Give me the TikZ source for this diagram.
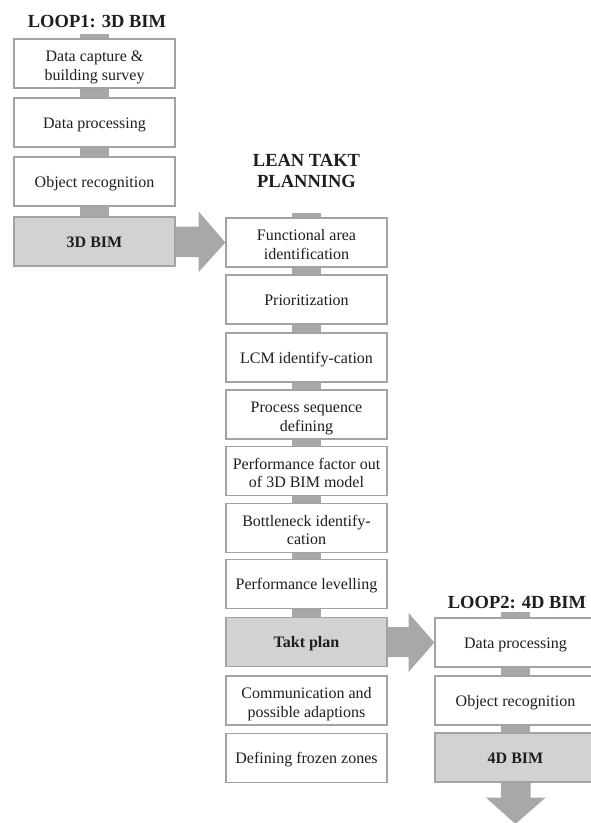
\documentclass[tikz,border=0pt]{standalone}
\usepackage{fontspec}
\setmainfont{Liberation Serif}
\usetikzlibrary{calc,backgrounds}
\definecolor{boxline}{HTML}{A3A3A3}
\definecolor{keyfill}{HTML}{D2D2D2}
\definecolor{barcol}{HTML}{A8A8A8}
\definecolor{txt}{HTML}{1E1E1E}
\tikzset{
  stepbox/.style={draw=boxline, line width=1.3pt, fill=white, minimum width=161pt, minimum height=49pt,
    inner sep=1pt, align=center, text=txt, text height=15.6pt, text depth=4pt,
    font=\fontsize{16}{18.4}\selectfont},
  twoline/.style={text height=37pt, text depth=4pt},
  keybox/.style={stepbox, fill=keyfill, font=\fontsize{16}{18.4}\selectfont\bfseries},
  titletext/.style={anchor=base, align=center, text=txt, inner sep=0pt, font=\fontsize{18.5}{21}\selectfont\bfseries},
  bar/.style={draw=barcol, line width=29pt},
  bigarrow/.style={fill=barcol}
}
\begin{document}
\begin{tikzpicture}[x=1pt,y=-1pt]
\useasboundingbox (0,0) rectangle (591,823);
% titles
\node[titletext] (t1) at (97,27) {LOOP1: 3D BIM};
\node[titletext] (t2) at (306.5,187) {LEAN TAKT\\PLANNING};
\node[titletext] (t3) at (517,608) {LOOP2: 4D BIM};
% loop 1
\node[stepbox,twoline] (dc)  at (94.5,63.5)  {Data capture \&\\building survey};
\node[stepbox] (dp1) at (94.5,122.5) {Data processing};
\node[stepbox] (or1) at (94.5,181.5) {Object recognition};
\node[keybox]  (b3)  at (94.5,241.5) {3D BIM};
% lean takt planning
\node[stepbox,twoline] (fa)   at (306.5,242.5) {Functional area\\identification};
\node[stepbox] (pr)   at (306.5,299.5) {Prioritization};
\node[stepbox] (lcm)  at (306.5,357.5) {LCM identify-cation};
\node[stepbox,twoline] (psd)  at (306.5,414.5) {Process sequence\\defining};
\node[stepbox,twoline] (pf)   at (306.5,471)   {Performance factor out\\of 3D BIM model};
\node[stepbox,twoline] (bn)   at (306.5,528)   {Bottleneck identify-\\cation};
\node[stepbox] (pl)   at (306.5,584)   {Performance levelling};
\node[keybox]  (takt) at (306.5,642)   {Takt plan};
\node[stepbox,twoline] (com)  at (306.5,700.5) {Communication and\\possible adaptions};
\node[stepbox] (dfz)  at (306.5,758)   {Defining frozen zones};
% loop 2
\node[stepbox] (dp2) at (515.5,642.5) {Data processing};
\node[stepbox] (or2) at (515.5,700.5) {Object recognition};
\node[keybox]  (b4)  at (515.5,757.5) {4D BIM};
\begin{scope}[on background layer]
  % stubs
  \draw[bar] ($(dc.north)+(0,-4)$) -- (dc.north);
  \draw[bar] ($(fa.north)+(0,-4)$) -- (fa.north);
  \draw[bar] ($(dp2.north)+(0,-5)$) -- (dp2.north);
  % connecting bars
  \draw[bar] (dc) -- (dp1);
  \draw[bar] (dp1) -- (or1);
  \draw[bar] (or1) -- (b3);
  \draw[bar] (fa) -- (pr);
  \draw[bar] (pr) -- (lcm);
  \draw[bar] (lcm) -- (psd);
  \draw[bar] (psd) -- (pf);
  \draw[bar] (pf) -- (bn);
  \draw[bar] (bn) -- (pl);
  \draw[bar] (pl) -- (takt);
  \draw[bar] (dp2) -- (or2);
  \draw[bar] (or2) -- (b4);
\end{scope}
% big arrows
\fill[bigarrow] ($(b3.east)+(0,-15)$) -- ++(23,0) -- ++(0,-15) -- (fa.west)
  -- ($(b3.east)+(23,30.5)$) -- ++(0,-15) -- ($(b3.east)+(0,15.5)$) -- cycle;
\fill[bigarrow] ($(takt.east)+(0,-15)$) -- ++(21,0) -- ++(0,-14) -- (dp2.west)
  -- ($(takt.east)+(21,30)$) -- ++(0,-15) -- ($(takt.east)+(0,15)$) -- cycle;
\coordinate (endtip) at (515.5,824);
\fill[bigarrow] ($(b4.south)+(-14.5,0)$) -- ++(0,15) -- ++(-15,0) -- (endtip)
  -- ($(b4.south)+(30,15)$) -- ++(-15,0) -- ($(b4.south)+(15,0)$) -- cycle;
\end{tikzpicture}
\end{document}
